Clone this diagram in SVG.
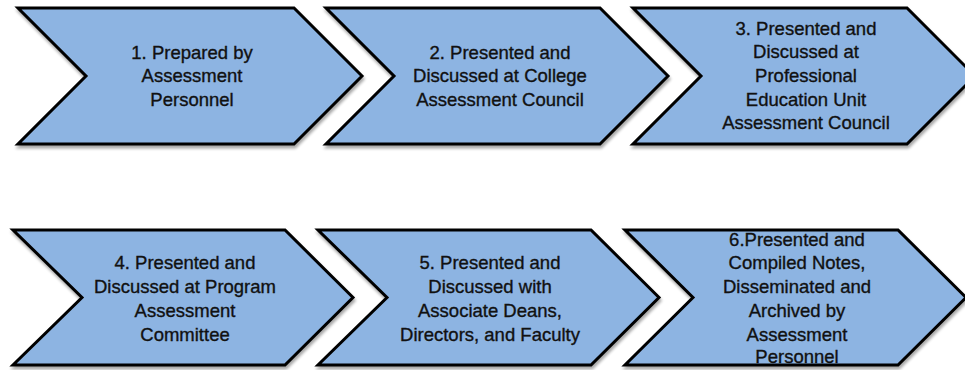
<svg xmlns="http://www.w3.org/2000/svg" width="965" height="370" viewBox="0 0 965 370">
  <defs>
    <filter id="shadow" x="-10%" y="-10%" width="130%" height="130%">
      <feGaussianBlur in="SourceAlpha" stdDeviation="1.5"/>
      <feOffset dx="1" dy="3" result="b"/>
      <feComponentTransfer><feFuncA type="linear" slope="0.35"/></feComponentTransfer>
      <feMerge><feMergeNode/><feMergeNode in="SourceGraphic"/></feMerge>
    </filter>
  </defs>
  <style>
    .chev { fill: #8DB4E2; stroke: #000; stroke-width: 3; stroke-linejoin: miter; filter: url(#shadow); }
    .lbl { font-family: "Liberation Sans", Arial, sans-serif; font-size: 18.5px; fill: #111; stroke: #111; stroke-width: 0.35; text-anchor: middle; }
  </style>
  <rect width="965" height="370" fill="#fff"/>
  <g id="connectors"/>
  <g id="node1">
    <polygon class="chev" points="18,8 294,8 362,76 294,144 18,144 86,76"/>
    <text class="lbl"><tspan x="192" y="59">1. Prepared by</tspan><tspan x="192" y="82">Assessment</tspan><tspan x="192" y="106">Personnel</tspan></text>
  </g>
  <g id="node2">
    <polygon class="chev" points="326,8 600,8 668,76 600,144 326,144 394,76"/>
    <text class="lbl"><tspan x="500" y="59">2. Presented and</tspan><tspan x="500" y="82">Discussed at College</tspan><tspan x="500" y="106">Assessment Council</tspan></text>
  </g>
  <g id="node3">
    <polygon class="chev" points="633,8 907,8 975,76 907,144 633,144 701,76"/>
    <text class="lbl"><tspan x="806" y="35">3. Presented and</tspan><tspan x="806" y="58">Discussed at</tspan><tspan x="806" y="82">Professional</tspan><tspan x="806" y="106">Education Unit</tspan><tspan x="806" y="129">Assessment Council</tspan></text>
  </g>
  <g id="node4">
    <polygon class="chev" points="13,230 285,230 353,297.5 285,365 13,365 82,297.5"/>
    <text class="lbl"><tspan x="185" y="269">4. Presented and</tspan><tspan x="185" y="293">Discussed at Program</tspan><tspan x="185" y="317">Assessment</tspan><tspan x="185" y="341">Committee</tspan></text>
  </g>
  <g id="node5">
    <polygon class="chev" points="318,230 591,230 659,297.5 591,365 318,365 387,297.5"/>
    <text class="lbl"><tspan x="490" y="269">5. Presented and</tspan><tspan x="490" y="293">Discussed with</tspan><tspan x="490" y="317">Associate Deans,</tspan><tspan x="490" y="341">Directors, and Faculty</tspan></text>
  </g>
  <g id="node6">
    <polygon class="chev" points="625,230 898,230 966,297.5 898,365 625,365 693,297.5"/>
    <text class="lbl"><tspan x="797" y="246">6.Presented and</tspan><tspan x="797" y="269">Compiled Notes,</tspan><tspan x="797" y="293">Disseminated and</tspan><tspan x="797" y="317">Archived by</tspan><tspan x="797" y="341">Assessment</tspan><tspan x="797" y="363">Personnel</tspan></text>
  </g>
</svg>
